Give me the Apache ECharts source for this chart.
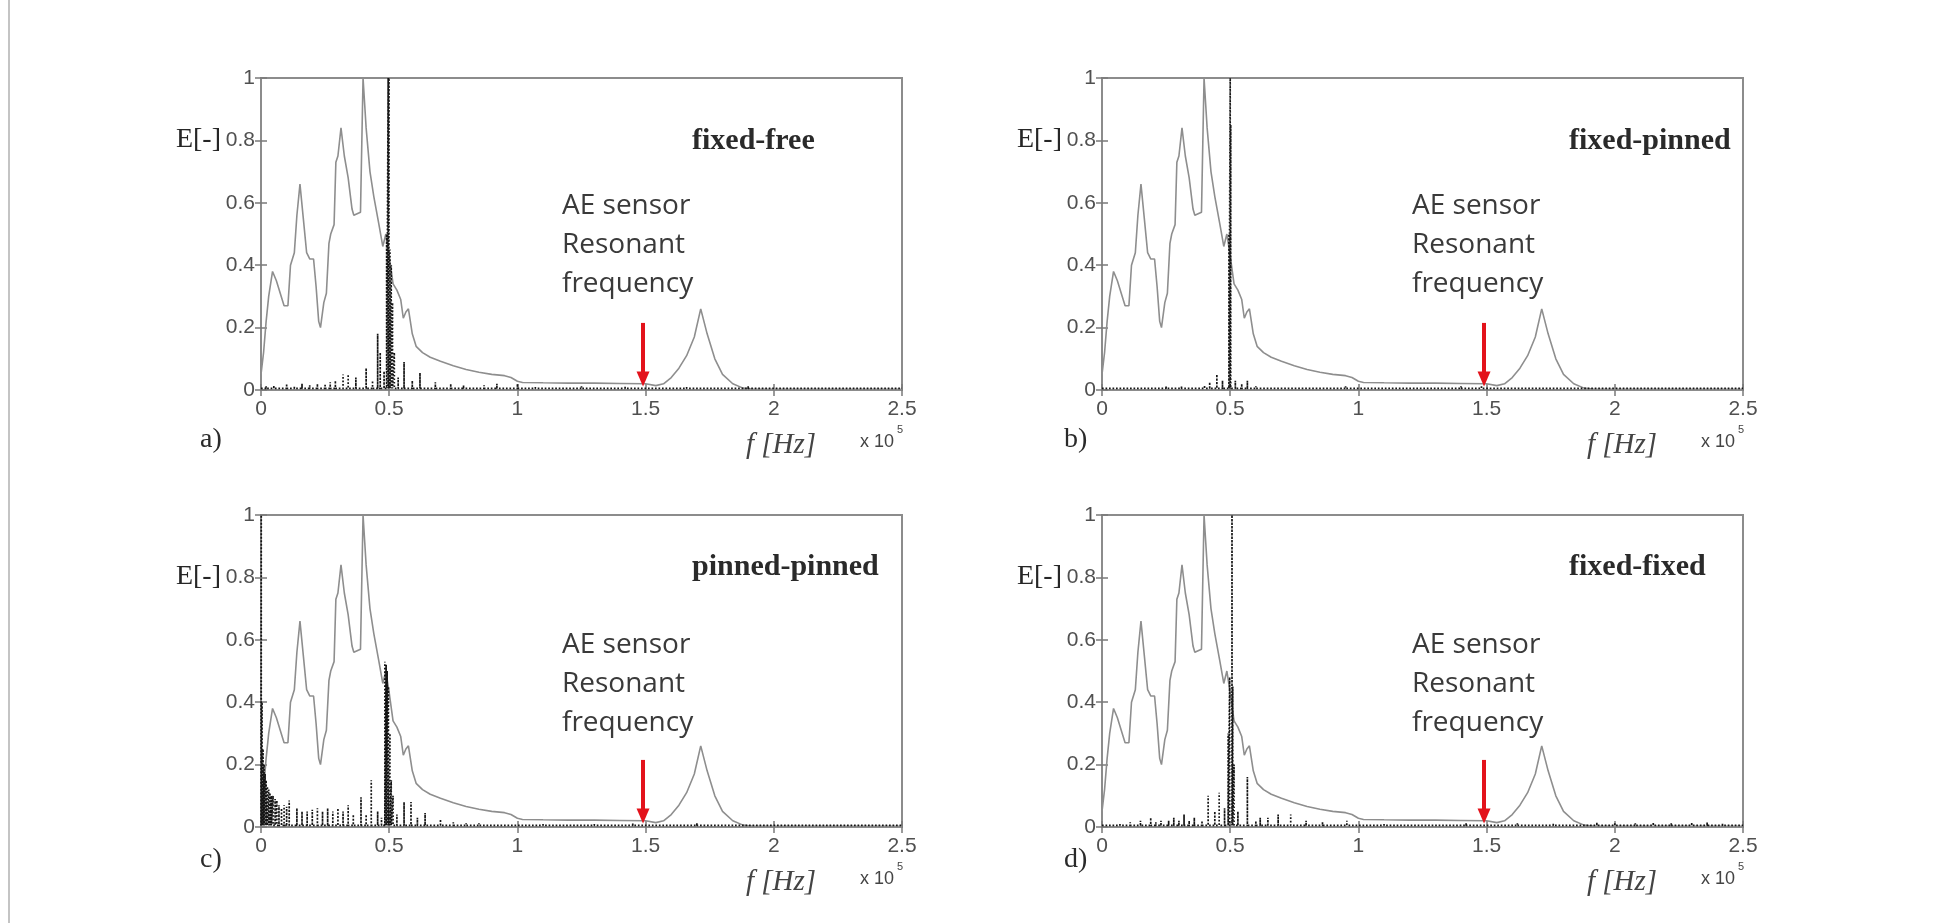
<!DOCTYPE html>
<html>
<head>
<meta charset="utf-8">
<script src="https://cdn.jsdelivr.net/npm/echarts@6/dist/echarts.min.js"></script>
<style>
html,body{margin:0;padding:0;background:#fff;}
#chart{width:1933px;height:923px;}
</style>
</head>
<body>
<div id="chart"></div>
<script>
// ---------------- DATA ----------------
const xTickValues = [0, 0.5, 1, 1.5, 2, 2.5];      // f [Hz] x 10^5
const yTickValues = [0, 0.2, 0.4, 0.6, 0.8, 1];    // E[-]
const panelNames = ['fixed-free', 'fixed-pinned', 'pinned-pinned', 'fixed-fixed'];
const panelLetters = ['a)', 'b)', 'c)', 'd)'];
const sensorLines = ['AE sensor', 'Resonant', 'frequency'];

// grey curve (same in every panel): [f x1e5, E]
const sensorCurve = [
  [0,0.05],[0.01,0.12],[0.02,0.22],[0.03,0.3],[0.045,0.38],[0.06,0.35],[0.075,0.31],[0.09,0.27],
  [0.105,0.27],[0.115,0.4],[0.13,0.44],[0.14,0.56],[0.152,0.66],[0.165,0.55],[0.178,0.44],[0.19,0.42],
  [0.205,0.42],[0.215,0.33],[0.225,0.22],[0.232,0.2],[0.245,0.28],[0.255,0.31],[0.265,0.47],[0.272,0.5],
  [0.285,0.53],[0.292,0.73],[0.3,0.75],[0.312,0.84],[0.325,0.75],[0.34,0.68],[0.355,0.58],[0.362,0.56],
  [0.388,0.57],[0.398,1.0],[0.41,0.84],[0.425,0.7],[0.44,0.62],[0.46,0.53],[0.475,0.46],[0.487,0.5],
  [0.5,0.43],[0.515,0.34],[0.53,0.32],[0.545,0.29],[0.555,0.23],[0.565,0.25],[0.575,0.26],[0.59,0.18],
  [0.605,0.14],[0.63,0.12],[0.66,0.105],[0.7,0.092],[0.75,0.078],[0.8,0.066],[0.85,0.057],[0.9,0.05],
  [0.95,0.046],[0.975,0.04],[1.0,0.028],[1.02,0.024],[1.1,0.023],[1.2,0.022],[1.3,0.022],[1.4,0.021],
  [1.5,0.02],[1.54,0.014],[1.57,0.02],[1.6,0.04],[1.63,0.07],[1.66,0.11],[1.69,0.17],[1.715,0.26],
  [1.74,0.18],[1.77,0.1],[1.8,0.05],[1.84,0.02],[1.88,0.006],[1.92,0.002],[2.5,0.002]
];

// black dotted spectra: [f x1e5, peak E]
const spikesA = [
  [0.02,0.012],[0.05,0.015],[0.08,0.01],[0.1,0.02],[0.13,0.012],[0.16,0.02],[0.19,0.015],[0.22,0.02],
  [0.25,0.02],[0.27,0.025],[0.29,0.03],[0.32,0.05],[0.34,0.05],[0.37,0.04],[0.41,0.07],[0.435,0.03],
  [0.455,0.18],[0.465,0.12],[0.48,0.06],[0.49,0.5],[0.496,1.0],[0.499,1.0],[0.503,0.45],[0.508,0.4],
  [0.513,0.28],[0.52,0.12],[0.535,0.04],[0.558,0.09],[0.59,0.03],[0.62,0.055],[0.68,0.025],[0.74,0.02],
  [0.79,0.015],[0.87,0.015],[0.92,0.02],[1.0,0.02],[1.07,0.012],[1.15,0.01],[1.25,0.012],[1.33,0.01],
  [1.42,0.012],[1.6,0.01],[1.66,0.012],[1.72,0.01],[1.9,0.012],[1.95,0.01],[2.1,0.008],[2.25,0.01],[2.4,0.008]
];
const spikesB = [
  [0.05,0.008],[0.25,0.012],[0.28,0.01],[0.31,0.012],[0.34,0.01],[0.4,0.015],[0.42,0.025],[0.448,0.05],
  [0.47,0.03],[0.495,0.5],[0.5,1.0],[0.502,0.85],[0.52,0.03],[0.545,0.02],[0.567,0.03],[0.6,0.012],
  [0.74,0.01],[0.76,0.01],[0.95,0.012],[0.97,0.01],[1.35,0.01],[1.4,0.012],[1.45,0.01],[1.48,0.015],
  [1.6,0.008],[1.9,0.01],[1.95,0.01],[2.1,0.01],[2.15,0.01],[2.2,0.008],[2.36,0.01],[2.4,0.01]
];
const spikesC = [
  [0.001,1.0],[0.004,0.4],[0.008,0.25],[0.012,0.2],[0.016,0.17],[0.02,0.15],[0.025,0.13],[0.03,0.12],
  [0.035,0.11],[0.04,0.1],[0.047,0.1],[0.055,0.09],[0.062,0.085],[0.07,0.07],[0.08,0.06],[0.09,0.07],
  [0.1,0.065],[0.11,0.085],[0.14,0.06],[0.16,0.05],[0.18,0.05],[0.2,0.055],[0.22,0.06],[0.24,0.05],
  [0.26,0.06],[0.28,0.05],[0.3,0.06],[0.32,0.05],[0.34,0.07],[0.36,0.04],[0.39,0.095],[0.41,0.04],
  [0.43,0.15],[0.455,0.05],[0.47,0.03],[0.483,0.53],[0.488,0.52],[0.492,0.5],[0.497,0.45],[0.503,0.3],
  [0.508,0.15],[0.515,0.1],[0.53,0.04],[0.558,0.08],[0.585,0.08],[0.61,0.03],[0.64,0.045],[0.7,0.025],
  [0.75,0.015],[0.8,0.012],[0.85,0.012],[0.9,0.01],[1.05,0.01],[1.1,0.012],[1.2,0.01],[1.3,0.012],
  [1.38,0.01],[1.45,0.012],[1.62,0.01],[1.7,0.012],[1.8,0.01],[1.9,0.01],[2.2,0.008]
];
const spikesD = [
  [0.03,0.01],[0.07,0.012],[0.11,0.015],[0.15,0.02],[0.19,0.03],[0.21,0.015],[0.23,0.02],[0.26,0.02],
  [0.28,0.03],[0.3,0.02],[0.32,0.04],[0.34,0.02],[0.36,0.03],[0.39,0.02],[0.414,0.1],[0.44,0.05],
  [0.457,0.11],[0.478,0.06],[0.492,0.3],[0.498,0.48],[0.507,1.0],[0.51,0.45],[0.515,0.2],[0.53,0.05],
  [0.567,0.16],[0.6,0.02],[0.617,0.03],[0.647,0.03],[0.687,0.04],[0.736,0.04],[0.796,0.02],[0.86,0.015],
  [0.955,0.02],[1.02,0.01],[1.1,0.012],[1.2,0.01],[1.3,0.01],[1.42,0.012],[1.5,0.01],[1.62,0.012],
  [1.7,0.01],[1.76,0.012],[1.85,0.01],[1.93,0.015],[2.0,0.015],[2.08,0.012],[2.15,0.015],[2.22,0.012],
  [2.3,0.015],[2.36,0.015],[2.42,0.012]
];
const spikeSets = [spikesA, spikesB, spikesC, spikesD];
const spikeBase = 0.005;

// red arrow marking the AE sensor resonant frequency
const arrowFreq = 1.49;
const arrowFrom = 0.215;
const arrowTo = 0.035;

// ---------------- LAYOUT ----------------
const gridLeft = [261, 1102];
const gridTop = [78, 515];
const GW = 641, GH = 312;

function spikePath(sp) {
  const pts = [[0, spikeBase]];
  sp.slice().sort((a, b) => a[0] - b[0]).forEach(([x, h]) => {
    pts.push([x, spikeBase], [x, h], [x, spikeBase]);
  });
  pts.push([2.5, spikeBase]);
  return pts;
}

const grids = [], xAxes = [], yAxes = [], series = [], graphics = [];
const tickStyle = {inside: true, length: 6, lineStyle: {color: '#7a7a7a', width: 1.5}};
const labelFont = {fontSize: 21, color: '#505050', fontFamily: 'Liberation Sans'};

panelNames.forEach((name, i) => {
  const c = i % 2, r = Math.floor(i / 2);
  const L = gridLeft[c], T = gridTop[r], R = L + GW, B = T + GH;
  grids.push({left: L, top: T, width: GW, height: GH, show: true,
    borderColor: '#8c8c8c', borderWidth: 2, backgroundColor: 'transparent'});
  xAxes.push({gridIndex: i, type: 'value', min: xTickValues[0], max: xTickValues[xTickValues.length - 1],
    interval: 0.5, position: 'bottom', axisLine: {show: false}, axisTick: tickStyle,
    axisLabel: Object.assign({margin: 9}, labelFont), splitLine: {show: false}});
  xAxes.push({gridIndex: i, type: 'value', min: 0, max: 2.5, interval: 0.5, position: 'top',
    axisLine: {show: false}, axisTick: tickStyle, axisLabel: {show: false}, splitLine: {show: false}});
  yAxes.push({gridIndex: i, type: 'value', min: yTickValues[0], max: yTickValues[yTickValues.length - 1],
    interval: 0.2, position: 'left', axisLine: {show: false}, axisTick: tickStyle,
    axisLabel: Object.assign({margin: 6}, labelFont), splitLine: {show: false}});
  yAxes.push({gridIndex: i, type: 'value', min: 0, max: 1, interval: 0.2, position: 'right',
    axisLine: {show: false}, axisTick: tickStyle, axisLabel: {show: false}, splitLine: {show: false}});

  series.push({type: 'line', xAxisIndex: 2 * i, yAxisIndex: 2 * i, data: sensorCurve,
    symbol: 'none', lineStyle: {color: '#8e8e8e', width: 1.6}, z: 2, silent: true});
  series.push({type: 'line', xAxisIndex: 2 * i, yAxisIndex: 2 * i, data: spikePath(spikeSets[i]),
    symbol: 'none', lineStyle: {color: '#151515', width: 1.7, type: [1.7, 1.8]}, z: 3, silent: true,
    markLine: {silent: true, symbol: ['none', 'triangle'], symbolSize: [13, 15], label: {show: false},
      lineStyle: {color: '#e3121b', width: 4, type: 'solid'},
      data: [[{coord: [arrowFreq, arrowFrom]}, {coord: [arrowFreq, arrowTo]}]]}});

  const txt = (x, y, text, font, fill, align, valign, extra) => graphics.push({type: 'text', x, y,
    style: Object.assign({text, font, fill, align, verticalAlign: valign, textAlign: align,
      textVerticalAlign: valign}, extra || {})});
  txt(L - 40, T + 62, 'E[-]', '28px "Liberation Serif"', '#262626', 'right', 'middle');
  txt(L + (c === 0 ? 431 : 467), T + (r === 0 ? 63 : 52), name, 'bold 30px "Liberation Serif"', '#2a2a2a', 'left', 'middle');
  txt(L + (c === 0 ? 301 : 310), T + (r === 0 ? 128 : 130) - 19.5, sensorLines.join('\n'),
    '28px "Open Sans"', '#3a3a3a', 'left', 'top', {lineHeight: 39});
  txt(L + (c === 0 ? -61 : -38), B + (r === 0 ? 50 : 33), panelLetters[i], '28px "Liberation Serif"', '#2a2a2a', 'left', 'middle');
  txt(L + 485, B + 55, 'f [Hz]', 'italic 29px "Liberation Serif"', '#444', 'left', 'middle');
  txt(L + 633, B + 52, 'x 10', '18px "Liberation Sans"', '#444', 'right', 'middle');
  txt(L + 636, B + 40, '5', '11px "Liberation Sans"', '#444', 'left', 'middle');
});

graphics.push({type: 'line', shape: {x1: 9, y1: 0, x2: 9, y2: 923}, style: {stroke: '#c4c4c4', lineWidth: 2}});

const chart = echarts.init(document.getElementById('chart'), null, {renderer: 'canvas'});
chart.setOption({
  animation: false,
  backgroundColor: '#fff',
  grid: grids, xAxis: xAxes, yAxis: yAxes, series: series, graphic: graphics
});
</script>
</body>
</html>
